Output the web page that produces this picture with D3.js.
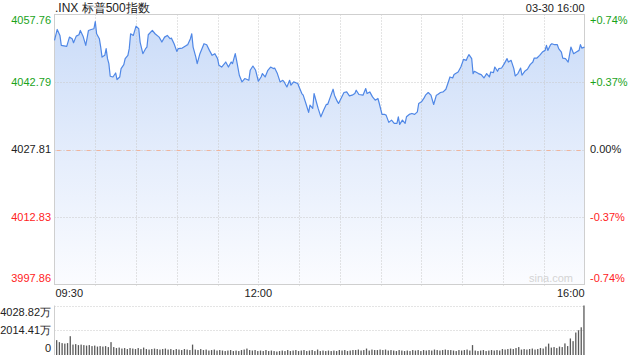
<!DOCTYPE html>
<html>
<head>
<meta charset="utf-8">
<script src="https://cdn.jsdelivr.net/npm/d3@7"></script>
<style>
  body { margin: 0; background: #fff; }
  svg { display: block; font-family: "Liberation Sans", Arial, sans-serif; }
</style>
</head>
<body>
<script>
// minutes after 09:30 and index level
const priceMinutes = [
  0, 2, 4, 5, 9, 11, 13, 14, 16, 18, 19, 21, 23, 25, 27, 29, 30, 31, 33, 34,
  35, 37, 38, 39, 40, 41, 43, 45, 46, 48, 49, 51, 52, 54, 55, 56, 58, 60, 62, 63,
  65, 67, 68, 69, 72, 74, 77, 79, 81, 83, 85, 86, 88, 90, 91, 94, 97, 98, 100, 101,
  102, 104, 105, 107, 110, 112, 114, 116, 118, 120, 121, 123, 126, 128, 130, 131, 133, 134, 136, 138,
  140, 143, 144, 146, 148, 150, 152, 153, 155, 157, 159, 161, 162, 164, 166, 168, 169, 171, 173, 174,
  176, 179, 180, 182, 183, 185, 187, 188, 190, 191, 193, 194, 196, 198, 200, 201, 203, 205, 206, 208,
  209, 211, 213, 215, 217, 219, 221, 222, 224, 227, 229, 230, 232, 234, 236, 238, 239, 241, 243, 244,
  246, 248, 250, 252, 253, 254, 256, 258, 259, 261, 263, 265, 267, 268, 270, 272, 273, 275, 277, 279,
  281, 282, 284, 286, 288, 290, 291, 293, 294, 297, 299, 301, 303, 304, 305, 307, 308, 309, 312, 314,
  316, 318, 320, 321, 323, 324, 326, 327, 329, 331, 333, 334, 336, 338, 339, 341, 343, 344, 346, 348,
  350, 352, 353, 355, 357, 359, 361, 362, 363, 365, 366, 368, 370, 371, 373, 374, 376, 378, 379, 380,
  382, 384, 386, 387, 388, 390
]
const priceValues = [
  4052.01, 4054.44, 4053.12, 4050.91, 4050.69, 4052.74, 4052.39, 4051.50, 4052.96, 4053.27,
  4054.22, 4052.96, 4050.91, 4054.22, 4054.44, 4054.60, 4056.21, 4053.49, 4052.39, 4050.53,
  4048.32, 4048.70, 4050.18, 4047.97, 4046.86, 4044.06, 4043.90, 4044.79, 4043.33, 4043.90,
  4045.76, 4046.64, 4047.97, 4048.70, 4050.18, 4053.49, 4053.12, 4055.17, 4054.60, 4051.64,
  4049.07, 4050.18, 4050.53, 4053.27, 4054.22, 4053.49, 4052.74, 4051.64, 4052.74, 4053.12,
  4052.39, 4052.52, 4051.28, 4049.58, 4050.18, 4050.31, 4050.91, 4051.06, 4052.39, 4053.49,
  4050.53, 4048.32, 4046.86, 4049.07, 4051.28, 4051.06, 4049.80, 4048.70, 4049.07, 4047.97,
  4046.49, 4046.11, 4047.22, 4046.11, 4047.22, 4046.86, 4049.07, 4047.59, 4044.28, 4042.80,
  4043.55, 4043.17, 4045.38, 4046.33, 4045.38, 4042.95, 4043.90, 4044.65, 4043.90, 4045.38,
  4046.11, 4045.76, 4045.89, 4044.65, 4042.80, 4043.17, 4042.80, 4041.69, 4043.17, 4042.07,
  4042.80, 4042.44, 4041.69, 4040.23, 4039.86, 4038.02, 4036.03, 4037.65, 4036.92, 4040.23,
  4038.02, 4036.92, 4035.06, 4036.54, 4037.80, 4037.80, 4039.48, 4041.18, 4039.86, 4038.53,
  4038.02, 4039.26, 4040.45, 4040.59, 4039.70, 4039.86, 4040.23, 4040.96, 4040.01, 4039.86,
  4041.34, 4040.23, 4040.59, 4039.48, 4038.75, 4039.13, 4038.02, 4035.59, 4035.59, 4035.44,
  4033.82, 4034.33, 4033.60, 4033.60, 4035.06, 4033.38, 4034.33, 4033.60, 4035.06, 4035.59,
  4035.81, 4035.59, 4036.17, 4038.02, 4038.38, 4039.26, 4039.86, 4040.45, 4039.86, 4037.80,
  4039.86, 4040.01, 4040.45, 4040.59, 4041.18, 4042.95, 4043.90, 4043.68, 4044.43, 4045.01,
  4046.11, 4047.81, 4047.59, 4048.32, 4048.85, 4047.97, 4044.65, 4045.16, 4044.65, 4044.43,
  4043.68, 4044.65, 4043.90, 4045.01, 4044.87, 4046.11, 4045.16, 4045.76, 4045.89, 4046.86,
  4047.97, 4047.22, 4047.59, 4045.76, 4044.12, 4044.65, 4045.89, 4044.28, 4045.16, 4045.60,
  4046.64, 4047.22, 4048.10, 4048.10, 4048.70, 4049.43, 4049.80, 4050.91, 4049.80, 4051.06,
  4051.28, 4051.06, 4051.06, 4050.18, 4049.43, 4048.10, 4047.97, 4047.22, 4048.85, 4050.53,
  4049.07, 4049.43, 4049.80, 4051.06, 4050.31, 4050.53
]

// volume per 2-minute bar, in 万
const volumeValues = [
  1209, 1048, 967, 927, 967, 1531, 846, 886, 806, 846,
  806, 766, 806, 725, 766, 685, 725, 685, 725, 645,
  1048, 645, 564, 604, 524, 564, 484, 564, 524, 484,
  564, 484, 604, 484, 443, 484, 524, 484, 443, 484,
  524, 443, 484, 403, 484, 443, 403, 484, 443, 403,
  846, 443, 403, 484, 403, 443, 363, 403, 443, 363,
  403, 363, 322, 363, 403, 322, 363, 322, 403, 443,
  524, 403, 363, 403, 322, 363, 322, 403, 322, 363,
  322, 282, 322, 363, 322, 403, 322, 363, 403, 322,
  363, 403, 322, 363, 403, 322, 443, 322, 363, 322,
  363, 322, 363, 322, 403, 363, 403, 322, 363, 403,
  403, 443, 363, 403, 524, 363, 443, 403, 403, 443,
  403, 443, 363, 403, 363, 322, 403, 363, 322, 363,
  322, 403, 363, 403, 322, 403, 363, 403, 363, 443,
  403, 363, 403, 443, 403, 403, 363, 322, 403, 363,
  403, 443, 363, 806, 363, 322, 363, 403, 322, 363,
  403, 363, 403, 363, 484, 443, 484, 524, 484, 564,
  645, 443, 484, 443, 484, 524, 443, 484, 564, 524,
  685, 927, 604, 645, 564, 685, 645, 943, 725, 1346,
  1128, 1829, 2015, 2256, 4028.82
]

const priceTicks = ["4057.76", "4042.79", "4027.81", "4012.83", "3997.86"]
const pctTicks = ["+0.74%", "+0.37%", "0.00%", "-0.37%", "-0.74%"]
const tickColors = ["#1aa31a", "#1aa31a", "#222", "#f22", "#f22"]
const timeLabels = [[0, "09:30"], [150, "12:00"], [390, "16:00"]]
const volTicks = ["4028.82万", "2014.41万", "0"]

const width = 640, height = 360
const plotLeft = 54.5, plotRight = 584.5, plotTop = 14.5, plotBottom = 284.5
const volTop = 305.5, volBottom = 355

const x = d3.scaleLinear([0, 390], [plotLeft, plotRight])
const y = d3.scaleLinear([3997.86, 4057.76], [plotBottom, plotTop])
const yv = d3.scaleLinear([0, 4028.82], [volBottom, volTop])

const svg = d3.select("body").append("svg")
  .attr("width", width)
  .attr("height", height)

const grad = svg.append("defs").append("linearGradient")
  .attr("id", "fill")
  .attr("gradientUnits", "userSpaceOnUse")
  .attr("x1", 0).attr("y1", plotTop).attr("x2", 0).attr("y2", plotBottom)
grad.append("stop").attr("offset", 0).attr("stop-color", "#c9dbf8")
grad.append("stop").attr("offset", 0.55).attr("stop-color", "#e6eefc")
grad.append("stop").attr("offset", 1).attr("stop-color", "#fbfcff")

const series = priceMinutes.map((m, i) => ({ m, v: priceValues[i] }))

// area under the line
svg.append("path")
  .datum(series)
  .attr("fill", "url(#fill)")
  .attr("d", d3.area().x(d => x(d.m)).y0(plotBottom).y1(d => y(d.v)))

// grid
const priceLevels = priceTicks.map(Number)
const grid = svg.append("g").attr("stroke", "#c8c8c8").attr("stroke-dasharray", "1,2")
grid.selectAll("line.v")
  .data(d3.range(1, 13))
  .join("line")
  .attr("class", "v")
  .attr("x1", d => Math.round(x(d * 30)) + 0.5)
  .attr("x2", d => Math.round(x(d * 30)) + 0.5)
  .attr("y1", plotTop).attr("y2", plotBottom + 3)

grid.selectAll("line.h")
  .data([priceLevels[1], priceLevels[2], priceLevels[3]])
  .join("line")
  .attr("class", "h")
  .attr("x1", plotLeft).attr("x2", plotRight)
  .attr("y1", d => Math.round(y(d)) + 0.5)
  .attr("y2", d => Math.round(y(d)) + 0.5)

// previous close line
svg.append("line")
  .attr("x1", plotLeft + 2).attr("x2", plotRight)
  .attr("y1", Math.round(y(priceLevels[2])) + 0.5)
  .attr("y2", Math.round(y(priceLevels[2])) + 0.5)
  .attr("stroke", "#f0b49c")
  .attr("stroke-dasharray", "4,6")

// frame
svg.append("rect")
  .attr("x", plotLeft).attr("y", plotTop)
  .attr("width", plotRight - plotLeft).attr("height", plotBottom - plotTop)
  .attr("fill", "none").attr("stroke", "#cfcfcf")

// price line
svg.append("path")
  .datum(series)
  .attr("fill", "none")
  .attr("stroke", "#4f87e6")
  .attr("stroke-width", 1.2)
  .attr("stroke-linejoin", "round")
  .attr("d", d3.line().x(d => x(d.m)).y(d => y(d.v)))

// axis labels
const tickY = [20, y(priceLevels[1]), y(priceLevels[2]), y(priceLevels[3]), 278]
svg.append("g")
  .selectAll("text")
  .data(priceTicks)
  .join("text")
  .attr("x", 51)
  .attr("y", (d, i) => tickY[i])
  .attr("dy", "0.35em")
  .attr("text-anchor", "end")
  .attr("font-size", 11)
  .attr("fill", (d, i) => tickColors[i])
  .text(d => d)

svg.append("g")
  .selectAll("text")
  .data(pctTicks)
  .join("text")
  .attr("x", 590)
  .attr("y", (d, i) => tickY[i])
  .attr("dy", "0.35em")
  .attr("font-size", 11)
  .attr("fill", (d, i) => tickColors[i])
  .text(d => d)

svg.append("g")
  .selectAll("text")
  .data(timeLabels)
  .join("text")
  .attr("x", d => d[0] === 0 ? x(d[0]) + 1 : x(d[0]))
  .attr("y", 297)
  .attr("text-anchor", d => d[0] === 0 ? "start" : d[0] === 390 ? "end" : "middle")
  .attr("font-size", 11)
  .attr("fill", "#222")
  .text(d => d[1])

svg.append("text")
  .attr("x", 55).attr("y", 12)
  .attr("font-size", 12).attr("fill", "#222")
  .text(".INX 标普500指数")

svg.append("text")
  .attr("x", plotRight).attr("y", 12)
  .attr("text-anchor", "end")
  .attr("font-size", 11).attr("fill", "#222")
  .text("03-30 16:00")

svg.append("text")
  .attr("x", 573).attr("y", 282)
  .attr("text-anchor", "end")
  .attr("font-size", 11).attr("fill", "#d4d4d4")
  .text("sina.com")

// volume panel
svg.append("g").attr("stroke", "#c8c8c8").attr("stroke-dasharray", "1,2")
  .selectAll("line")
  .data([4028.82, 2014.41])
  .join("line")
  .attr("x1", plotLeft).attr("x2", plotRight)
  .attr("y1", d => Math.round(yv(d)) + 0.5)
  .attr("y2", d => Math.round(yv(d)) + 0.5)

svg.append("line")
  .attr("x1", plotLeft).attr("x2", plotLeft)
  .attr("y1", volTop).attr("y2", volBottom)
  .attr("stroke", "#cfcfcf")

svg.append("g")
  .attr("fill", "#5a5a5a")
  .selectAll("rect")
  .data(volumeValues)
  .join("rect")
  .attr("x", (d, i) => x((i + 1) * 2) - 1.2)
  .attr("width", 1.3)
  .attr("y", d => yv(d))
  .attr("height", d => volBottom - yv(d))

const volTickY = [312, 330, 348]
svg.append("g")
  .selectAll("text")
  .data(volTicks)
  .join("text")
  .attr("x", 51)
  .attr("y", (d, i) => volTickY[i])
  .attr("dy", "0.35em")
  .attr("text-anchor", "end")
  .attr("font-size", 11)
  .attr("fill", "#222")
  .text(d => d)
</script>
</body>
</html>
